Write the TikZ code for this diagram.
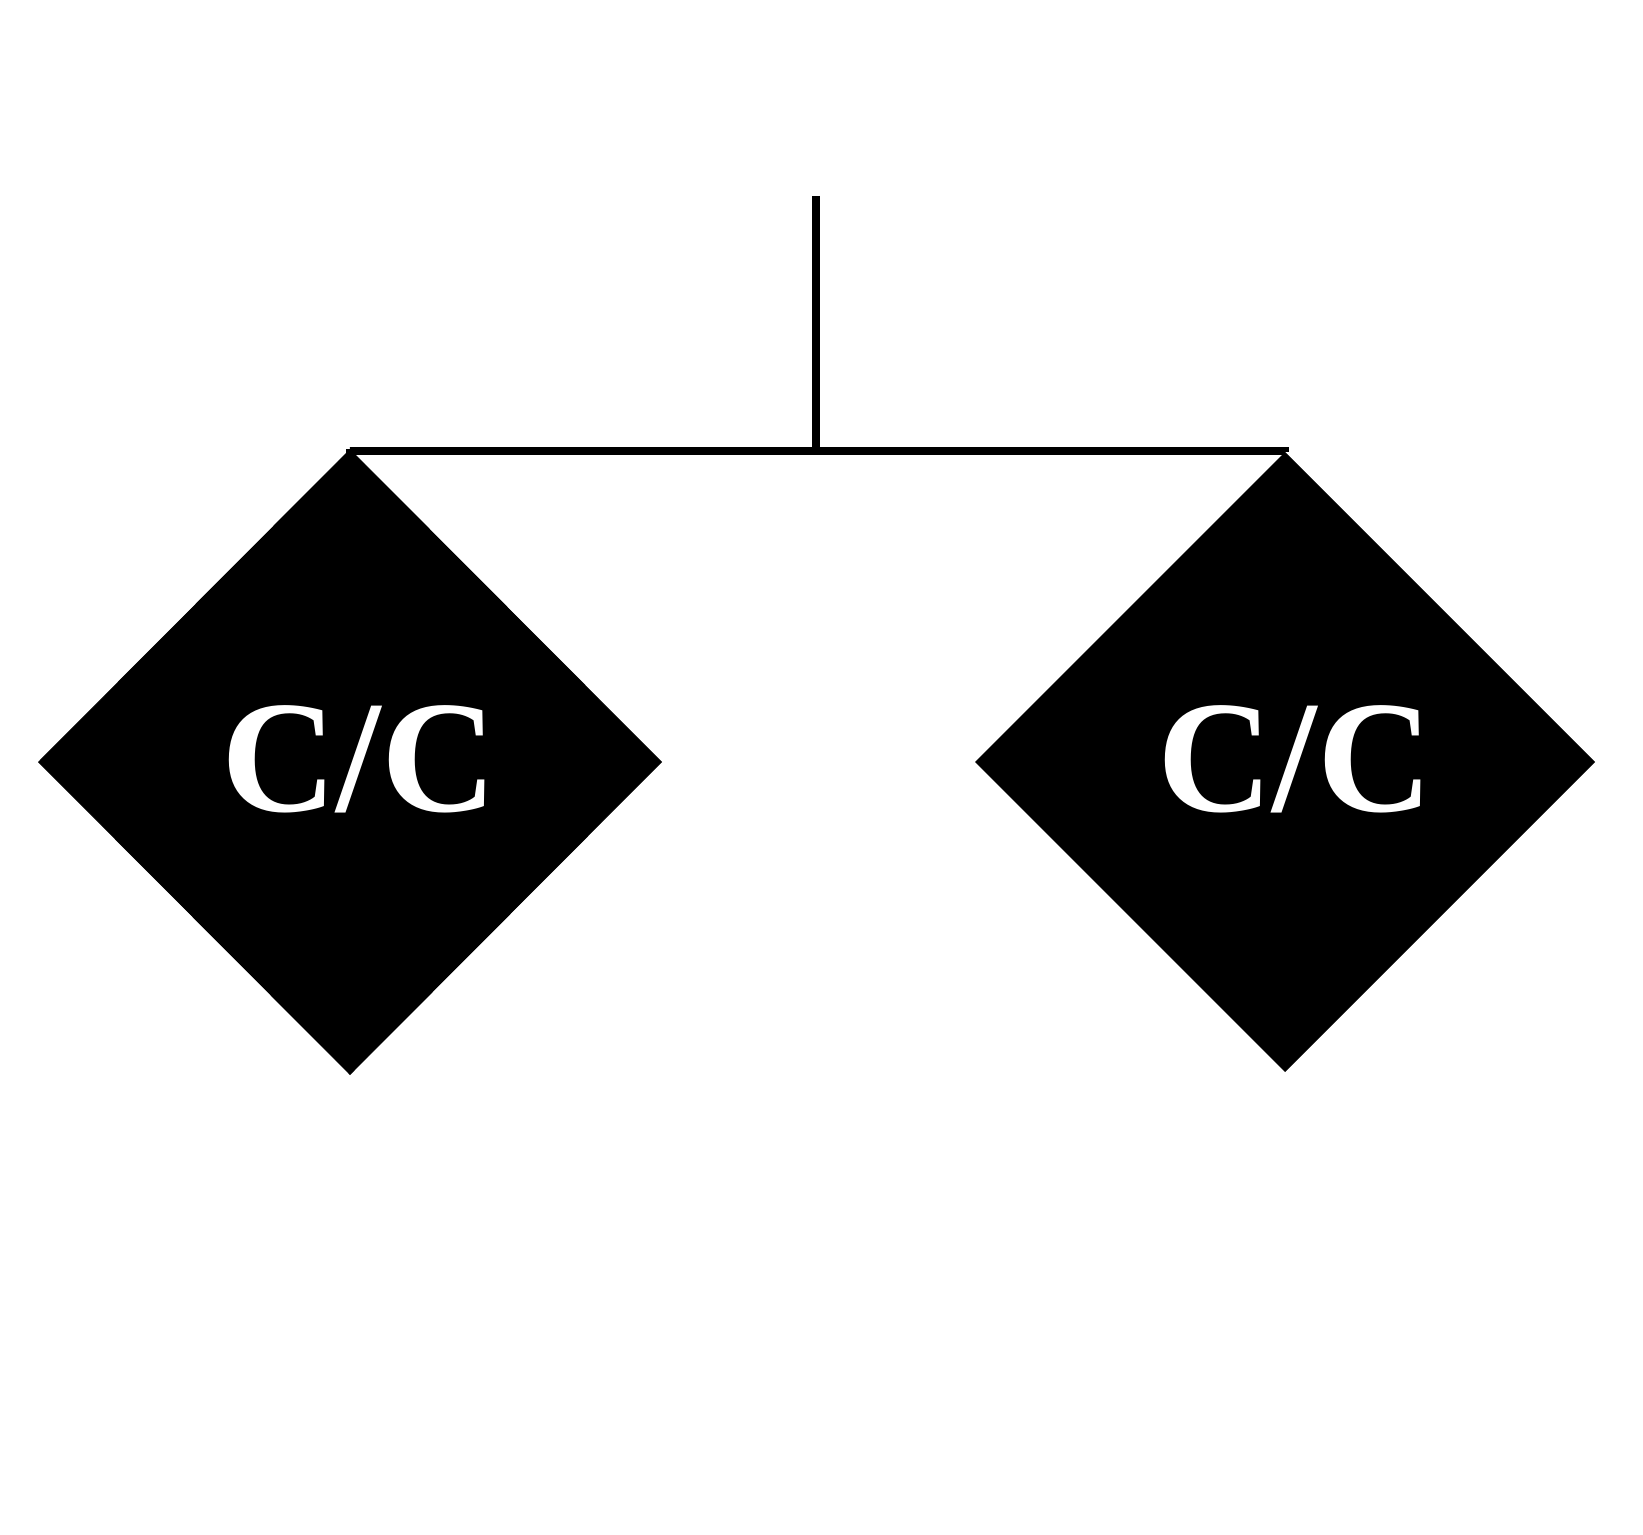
\documentclass[tikz,border=0pt]{standalone}
\usepackage{fontspec}
\setmainfont{Liberation Serif}
\usetikzlibrary{shapes.geometric}

\begin{document}
\begin{tikzpicture}[x = 0.5pt, y = -0.5pt]
\tikzstyle{CoilStyle}=[shape = diamond,
                       fill = black,
                       draw = black,
                       line width = 0.5pt,
                       inner sep = 0pt,
                       text = white,
                       font = \fontsize{80}{90}\selectfont\bfseries]
\tikzstyle{WireStyle}=[line width = 3.75pt, black]
\useasboundingbox (0, 0) rectangle (1643, 1535);
\node[CoilStyle, minimum width = 311.5pt, minimum height = 312.5pt] (ccl) at (350, 762) {\hspace*{9pt}\raisebox{3pt}{C/C}};
\node[CoilStyle, minimum width = 309.5pt, minimum height = 309.5pt] (ccr) at (1285, 762) {\hspace*{10pt}\raisebox{3pt}{C/C}};
\coordinate (feed) at (816, 196);
\coordinate (split) at (816, 451);
\draw[WireStyle] (feed) -- (split);
\draw[WireStyle] (split) -| (ccl.north);
\draw[WireStyle] (split) -| (ccr.north);
\end{tikzpicture}
\end{document}
